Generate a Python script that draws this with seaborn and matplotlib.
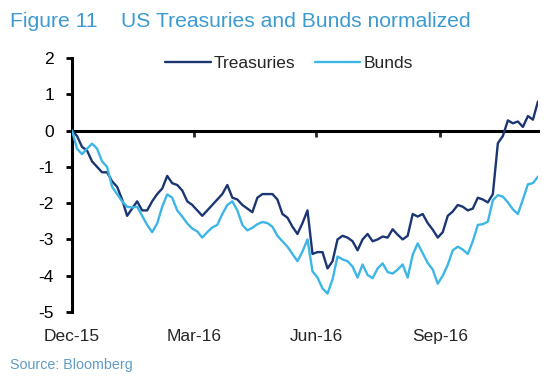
import matplotlib
matplotlib.use("Agg")
import matplotlib.pyplot as plt
import matplotlib.dates as mdates
import seaborn as sns
import numpy as np
import pandas as pd

# normalized series (roughly every 3-4 days)
treasuries = [0.0, -0.15, -0.45, -0.55, -0.85, -1.0, -1.15, -1.15, -1.4, -1.55,
              -1.9, -2.35, -2.15, -1.95, -2.2, -2.2, -1.95, -1.75, -1.6, -1.25,
              -1.45, -1.5, -1.65, -1.95, -2.05, -2.2, -2.35, -2.2, -2.05, -1.9,
              -1.75, -1.5, -1.85, -1.9, -2.05, -2.15, -2.25, -1.85, -1.75, -1.75,
              -1.75, -1.9, -2.3, -2.4, -2.65, -2.85, -2.55, -2.2, -3.4, -3.35,
              -3.35, -3.8, -3.6, -3.0, -2.9, -2.95, -3.05, -3.3, -3.0, -2.85,
              -3.05, -3.0, -2.92, -2.95, -2.72, -2.87, -3.0, -2.9, -2.3, -2.37,
              -2.3, -2.55, -2.73, -2.95, -2.8, -2.35, -2.23, -2.05, -2.1, -2.2,
              -2.15, -1.85, -1.9, -1.98, -1.75, -0.35, -0.15, 0.28, 0.2, 0.25,
              0.1, 0.4, 0.3, 0.8]
bunds = [0.0, -0.5, -0.65, -0.5, -0.36, -0.5, -0.85, -1.0, -1.55, -1.75,
         -1.95, -2.1, -2.12, -2.1, -2.35, -2.6, -2.8, -2.56, -2.1, -1.76,
         -1.85, -2.2, -2.37, -2.56, -2.7, -2.78, -2.95, -2.8, -2.67, -2.6,
         -2.3, -2.05, -1.95, -2.2, -2.6, -2.75, -2.68, -2.58, -2.52, -2.55,
         -2.65, -2.9, -3.05, -3.2, -3.4, -3.6, -3.33, -3.0, -3.88, -4.05,
         -4.35, -4.49, -4.1, -3.47, -3.55, -3.6, -3.75, -4.05, -3.69, -3.98,
         -4.07, -3.8, -3.66, -3.9, -3.94, -3.83, -3.69, -4.05, -3.42, -3.11,
         -3.38, -3.65, -3.83, -4.22, -4.0, -3.7, -3.3, -3.2, -3.28, -3.4,
         -3.05, -2.6, -2.58, -2.51, -1.92, -1.78, -1.82, -1.98, -2.17, -2.3,
         -1.9, -1.48, -1.45, -1.27]
dates = pd.date_range('2015-12-31', '2016-12-12', periods=len(treasuries))
tick_dates = pd.to_datetime(['2015-12-31', '2016-03-31', '2016-06-30', '2016-09-30'])
tick_labels = ['Dec-15', 'Mar-16', 'Jun-16', 'Sep-16']
colors = {'Treasuries': '#1C3672', 'Bunds': '#3DB6E6'}

df = pd.DataFrame({'date': dates, 'Treasuries': treasuries, 'Bunds': bunds})
df = df.melt('date', var_name='series', value_name='value')

sns.set_style('white')
plt.rcParams['font.family'] = ['Liberation Sans', 'DejaVu Sans']
plt.rcParams['axes.unicode_minus'] = False

fig = plt.figure(figsize=(5.6, 3.78), dpi=100)
ax = fig.add_axes([0.1286, 0.1746, 0.832, 0.672])
sns.lineplot(data=df, x='date', y='value', hue='series', palette=colors,
             linewidth=1.7, ax=ax, zorder=3)

ax.set_xlim(dates[0], dates[-1])
ax.set_ylim(-5, 2)
ax.set_yticks(range(-5, 3))
ax.set_xlabel('')
ax.set_ylabel('')
ax.spines[['top', 'right']].set_visible(False)
ax.spines['left'].set_linewidth(2.2)
ax.spines['left'].set_color('black')
ax.spines['bottom'].set_position(('data', 0))
ax.spines['bottom'].set_linewidth(2.2)
ax.spines['bottom'].set_color('black')
ax.set_xticks(tick_dates)
ax.tick_params(axis='x', direction='out', length=4, width=2, labelbottom=False, bottom=True)
ax.tick_params(axis='y', direction='out', length=4, width=2, pad=9, labelsize=12.5,
               left=True, colors='black')

# date labels sit under the plot, the tick marks stay on the zero line
sec = ax.secondary_xaxis(0)
sec.set_xticks(mdates.date2num(tick_dates), tick_labels)
sec.tick_params(length=0, pad=12, labelsize=12.5)
sec.spines['bottom'].set_visible(False)

ax.legend(loc='upper center', bbox_to_anchor=(0.466, 1.035), ncol=2, frameon=False,
          handlelength=2.6, handletextpad=0.2, columnspacing=1.1, fontsize=12.5,
          borderaxespad=0)

fig.text(0.018, 0.942, 'Figure 11    US Treasuries and Bunds normalized',
         color='#3D9AD1', fontsize=15.2, va='center')
fig.text(0.018, 0.034, 'Source: Bloomberg', color='#5F9CC8', fontsize=10.3, va='center')

fig.savefig('out.png', dpi=100)
